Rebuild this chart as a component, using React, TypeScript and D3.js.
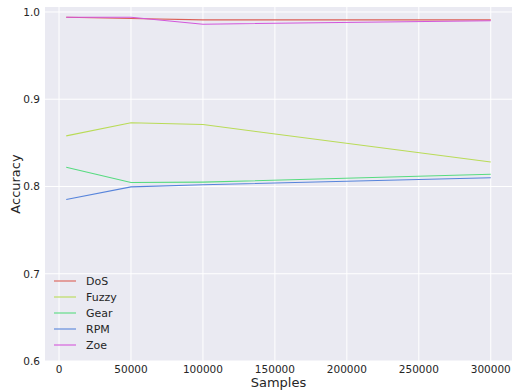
import React from 'react';
import * as d3 from 'd3';

const samples = [5000, 50000, 100000, 300000];
const dos = [0.994, 0.9925, 0.991, 0.991];
const fuzzy = [0.858, 0.873, 0.871, 0.828];
const gear = [0.822, 0.8045, 0.805, 0.814];
const rpm = [0.785, 0.7995, 0.802, 0.810];
const zoe = [0.994, 0.994, 0.986, 0.990];

const seriesNames = ['DoS', 'Fuzzy', 'Gear', 'RPM', 'Zoe'];
const seriesValues = [dos, fuzzy, gear, rpm, zoe];
const colors = ['#db5f57', '#b9db57', '#57db80', '#5784db', '#d357db'];
const xTicks = [0, 50000, 100000, 150000, 200000, 250000, 300000];
const yTicks = [0.6, 0.7, 0.8, 0.9, 1.0];

export default function App() {
  const width = 512;
  const height = 390;
  const left = 45;
  const right = 512;
  const top = 7;
  const bottom = 361;

  const x = d3.scaleLinear().domain([-9750, 314750]).range([left, right]);
  const y = d3.scaleLinear().domain([0.6, 1.0057]).range([bottom, top]);

  const line = d3
    .line<number>()
    .x((_, i) => x(samples[i]))
    .y((d) => y(d));

  const font = 'DejaVu Sans, sans-serif';
  const textColor = '#262626';

  return (
    <svg
      width={width}
      height={height}
      style={{ position: 'absolute', left: 0, top: 0, background: '#fff' }}
      fontFamily={font}
    >
      <rect x={left} y={top} width={right - left} height={bottom - top} fill="#eaeaf2" />
      {xTicks.map((t) => (
        <line key={'gx' + t} x1={x(t)} x2={x(t)} y1={top} y2={bottom} stroke="#fff" strokeWidth={1} />
      ))}
      {yTicks.map((t) => (
        <line key={'gy' + t} x1={left} x2={right} y1={y(t)} y2={y(t)} stroke="#fff" strokeWidth={1} />
      ))}
      {seriesValues.map((vals, i) => (
        <path key={seriesNames[i]} d={line(vals) || ''} fill="none" stroke={colors[i]} strokeWidth={1.1} />
      ))}
      {xTicks.map((t) => (
        <text key={'tx' + t} x={x(t)} y={373} textAnchor="middle" fontSize={10.5} fill={textColor}>
          {t}
        </text>
      ))}
      {yTicks.map((t) => (
        <text key={'ty' + t} x={40} y={y(t) + 4} textAnchor="end" fontSize={10.5} fill={textColor}>
          {t.toFixed(1)}
        </text>
      ))}
      <text x={(left + right) / 2} y={387} textAnchor="middle" fontSize={13} fill={textColor}>
        Samples
      </text>
      <text
        transform={`translate(20, ${(top + bottom) / 2}) rotate(-90)`}
        textAnchor="middle"
        fontSize={13}
        fill={textColor}
      >
        Accuracy
      </text>
      <text x={278} y={-4} textAnchor="middle" fontSize={14} fill={textColor}>
        Accuracy vs. Samples (CAN, all attack types)
      </text>
      {seriesNames.map((name, i) => (
        <g key={'lg' + name} transform={`translate(0, ${281 + i * 16})`}>
          <line x1={54} x2={76} y1={0} y2={0} stroke={colors[i]} strokeWidth={1.1} />
          <text x={86} y={4} fontSize={11} fill={textColor}>
            {name}
          </text>
        </g>
      ))}
    </svg>
  );
}
